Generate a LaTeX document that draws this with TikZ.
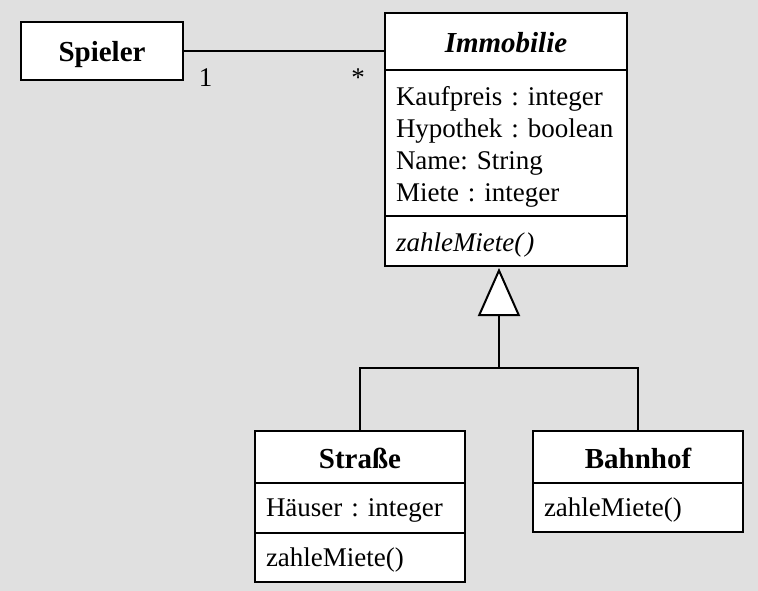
\documentclass[tikz,border=0pt]{standalone}
\usepackage{fontspec}
\setmainfont{Liberation Serif}
\usetikzlibrary{arrows.meta}
\definecolor{bg}{RGB}{224,224,224}
\frenchspacing
\tikzset{
  box/.style={draw, line width=2.5pt, fill=white, inner ysep=0pt, inner xsep=11pt, outer sep=0pt,
    text width=#1-22pt, minimum height=10pt},
  head/.style={font=\fontsize{29}{34}\selectfont\bfseries, align=center, text height=22pt, text depth=0pt},
  body/.style={font=\fontsize{27}{31.9}\selectfont, align=left, text depth=0pt},
  conn/.style={line width=2pt},
  mult/.style={font=\fontsize{27}{30}\selectfont, inner sep=0pt},
}
\begin{document}
\begin{tikzpicture}[x=1pt,y=-1pt]
\useasboundingbox[fill=bg] (0,0) rectangle (758,591);
% Spieler
\node[box=162pt, head, minimum height=58pt] (spieler) at (102,51) {Spieler};
% Immobilie
\node[box=242pt, head, minimum height=57pt] (immh) at (506,41.5) {\itshape Immobilie};
\node[box=242pt, body, minimum height=146pt, text height=24pt, text depth=98pt] (imma) at (506,143) {Kaufpreis : integer\\Hypothek : boolean\\Name: String\\Miete : integer};
\node[box=242pt, body, minimum height=50pt, text height=21pt] (immo) at (506,241) {\itshape zahleMiete(\kern2pt)};
% Strasse
\node[box=210pt, head, minimum height=52pt] (strh) at (360,457) {Straße};
\node[box=210pt, body, minimum height=50pt, text height=17.5pt] (stra) at (360,508) {Häuser : integer};
\node[box=210pt, body, minimum height=49pt, text height=17pt] (stro) at (360,557.5) {zahleMiete()};
% Bahnhof
\node[box=210pt, head, minimum height=52pt] (bahh) at (638,457) {Bahnhof};
\node[box=210pt, body, minimum height=49pt, text height=18.5pt] (baho) at (638,507.5) {zahleMiete()};
% association
\draw[line width=1.5pt] (spieler.east) -- (spieler.east -| immh.west);
\node[mult] (m1) at (205.5,77.5) {1};
\node[mult] (m2) at (358,78) {*};
% generalization
\coordinate (jn) at (499,368);
\draw[conn] (strh.north) |- (jn) -| (bahh.north);
\draw[conn, -{Triangle[length=48pt, width=42pt, fill=white, line width=2pt]}, shorten >=2pt] (jn) -- (jn |- immo.south);
\end{tikzpicture}
\end{document}
